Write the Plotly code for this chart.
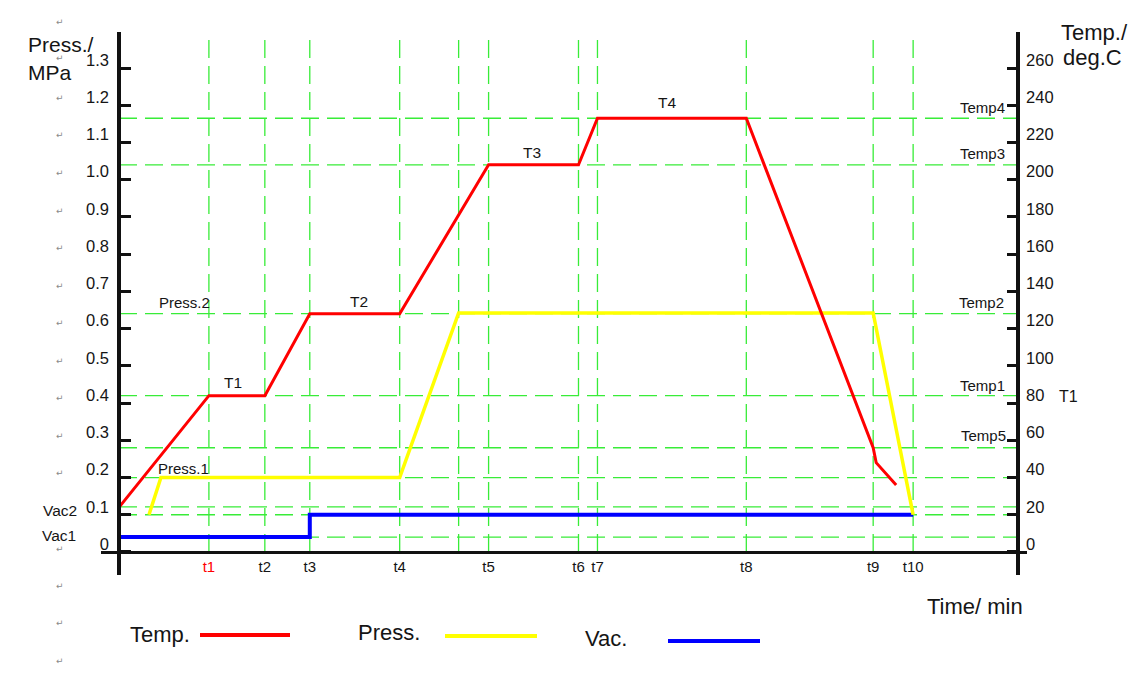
import plotly.graph_objects as go

# ---------------- data ----------------
t_labels = ["t1", "t2", "t3", "t4", "t5", "t6", "t7", "t8", "t9", "t10"]
t_times = [9.0, 14.6, 19.1, 28.1, 37.0, 46.0, 47.9, 62.8, 75.5, 79.5]
extra_times = [34.0]                      # unlabeled vertical guide (end of press ramp)

temp_time = [0, 9.0, 14.6, 19.1, 28.1, 37.0, 46.0, 47.9, 62.8, 75.5, 75.8, 76.5, 77.8]
temp_vals = [24, 84, 84, 128, 128, 208, 208, 233, 233, 56, 48, 44, 36]        # deg.C

press_time = [3.0, 4.2, 28.1, 34.0, 75.5, 79.5]
press_vals = [0.10, 0.20, 0.20, 0.642, 0.642, 0.10]                           # MPa

vac_time = [0, 19.1, 19.1, 79.5]
vac_vals = [0.04, 0.04, 0.10, 0.10]                                           # MPa

temp_levels = [233, 208, 128, 84, 56]       # Temp4, Temp3, Temp2, Temp1, Temp5
press_levels = [0.20, 0.121, 0.10, 0.04]    # Press.1, Vac2, 0.1, Vac1

press_ticks = [round(0.1 * i, 1) for i in range(14)]
press_ticktext = ["0", "0.1", "0.2", "0.3", "0.4", "0.5", "0.6", "0.7", "0.8",
                  "0.9", "1.0", "1.1", "1.2", "1.3"]
temp_ticks = list(range(0, 261, 20))

time_end = 90
X_RANGE = [-1.802, 90.90]
P_RANGE = [-0.0618, 1.3967]
T_RANGE = [P_RANGE[0] * 200, P_RANGE[1] * 200]

# ---------------- style ----------------
FONT = "Liberation Sans, Arial, sans-serif"
TXT = "#151515"
GREEN = "#38ec38"
DASH = "18px,8px"
W, H = 1146, 678
ML, MR, MT, MB = 101, 119, 32, 103
PW, PH = W - ML - MR, H - MT - MB


def pxx(x):
    return (x - ML) / PW


def pxy(y):
    return (H - MB - y) / PH


fig = go.Figure()

# series
fig.add_trace(go.Scatter(x=vac_time, y=vac_vals, mode="lines", yaxis="y",
                         line=dict(color="#0000ff", width=4), name="Vac.",
                         showlegend=False))
fig.add_trace(go.Scatter(x=press_time, y=press_vals, mode="lines", yaxis="y",
                         line=dict(color="#ffff00", width=3.5), name="Press.",
                         showlegend=False))
fig.add_trace(go.Scatter(x=temp_time, y=temp_vals, mode="lines", yaxis="y2",
                         line=dict(color="#ff0000", width=3), name="Temp.",
                         showlegend=False))

shapes = []
# vertical guide lines
for t in t_times + extra_times:
    shapes.append(dict(type="line", xref="x", yref="y", x0=t, x1=t, y0=0, y1=P_RANGE[1],
                       layer="below", line=dict(color=GREEN, width=1.3, dash=DASH)))
# horizontal guide lines
for lv in temp_levels:
    shapes.append(dict(type="line", xref="x", yref="y2", x0=0, x1=time_end, y0=lv, y1=lv,
                       layer="below", line=dict(color=GREEN, width=1.3, dash=DASH)))
for lv in press_levels:
    shapes.append(dict(type="line", xref="x", yref="y", x0=0, x1=time_end, y0=lv, y1=lv,
                       layer="below", line=dict(color=GREEN, width=1.3, dash=DASH)))

# legend swatches (bottom)
legend_items = [("Temp.", 160, 634, 200, 290, 635, "#ff0000"),
                ("Press.", 389, 632, 445, 537, 636, "#ffff00"),
                ("Vac.", 606, 638, 668, 760, 641, "#0000ff")]
annotations = []
for name, tx, ty, lx0, lx1, ly, col in legend_items:
    shapes.append(dict(type="line", xref="paper", yref="paper", x0=pxx(lx0), x1=pxx(lx1),
                       y0=pxy(ly), y1=pxy(ly), line=dict(color=col, width=4)))
    annotations.append(dict(text=name, x=pxx(tx), y=pxy(ty), xref="paper", yref="paper",
                            showarrow=False, xanchor="center", yanchor="middle",
                            font=dict(family=FONT, size=22, color=TXT)))

# text labels: (text, x_px, y_px, size, xanchor)
labels = [
    ("Press./", 26, 44, 21, "left"),
    ("MPa", 26, 72, 21, "left"),
    ("Temp./", 1059, 32, 22, "left"),
    ("deg.C", 1061, 58, 22, "left"),
    ("Time/ min", 975, 606, 22, "center"),
    ("Press.2", 184, 303, 15, "center"),
    ("T1", 233, 382, 15.5, "center"),
    ("T2", 359, 301, 15.5, "center"),
    ("Press.1", 183, 468, 15, "center"),
    ("T3", 532, 152, 15.5, "center"),
    ("T4", 667, 102, 15.5, "center"),
    ("Temp4", 1007, 108, 15, "right"),
    ("Temp3", 1007, 153, 15, "right"),
    ("Temp2", 1006, 303, 15, "right"),
    ("Temp1", 1007, 385, 15, "right"),
    ("Temp5", 1008, 435, 15, "right"),
    ("T1", 1068, 396, 16, "center"),
    ("Vac2", 60, 510, 15.5, "center"),
    ("Vac1", 59, 535, 15.5, "center"),
]
for text, x, y, s, xa in labels:
    annotations.append(dict(text=text, x=pxx(x), y=pxy(y), xref="paper", yref="paper",
                            showarrow=False, xanchor=xa, yanchor="middle",
                            font=dict(family=FONT, size=s, color=TXT)))

# paragraph marks down the left margin
para_y = [22, 58, 98, 135, 173, 211, 248, 286, 323, 361, 398, 436, 473, 549, 586, 623, 661]
for y in para_y:
    annotations.append(dict(text="↵", x=pxx(60), y=pxy(y), xref="paper", yref="paper",
                            showarrow=False, xanchor="center", yanchor="middle",
                            font=dict(family="DejaVu Sans", size=9, color="#8a8a8a")))

tick_text = ['<span style="color:#ff0000">%s</span>' % l if l == "t1" else l for l in t_labels]

fig.update_layout(
    width=W, height=H, autosize=False,
    margin=dict(l=ML, r=MR, t=MT, b=MB, pad=0),
    paper_bgcolor="white", plot_bgcolor="white",
    showlegend=False,
    shapes=shapes, annotations=annotations,
    xaxis=dict(range=X_RANGE, anchor="free", position=pxy(552), showgrid=False, zeroline=False,
               showline=True, linecolor="#111", linewidth=2.5,
               tickvals=t_times, ticktext=tick_text, ticks="", ticklabelstandoff=0,
               tickfont=dict(family=FONT, size=15, color=TXT)),
    yaxis=dict(range=P_RANGE, anchor="free", position=pxx(119), showgrid=False, zeroline=False,
               showline=True, linecolor="#111", linewidth=3.5,
               tickvals=press_ticks, ticktext=press_ticktext,
               ticks="inside", ticklen=10, tickwidth=2.5, tickcolor="#111",
               ticklabelshift=-8, ticklabelstandoff=5,
               tickfont=dict(family=FONT, size=16.5, color=TXT)),
    yaxis2=dict(range=T_RANGE, overlaying="y", side="right", anchor="free", position=pxx(1018),
                showgrid=False, zeroline=False, showline=True, linecolor="#111", linewidth=3.5,
                tickvals=temp_ticks, ticks="inside", ticklen=9, tickwidth=2.5, tickcolor="#111",
                ticklabelshift=-8, ticklabelstandoff=3,
                tickfont=dict(family=FONT, size=16.5, color=TXT)),
)

fig.write_html("out.html", config={"displayModeBar": False},
               post_script="document.body.style.margin='0px';")
